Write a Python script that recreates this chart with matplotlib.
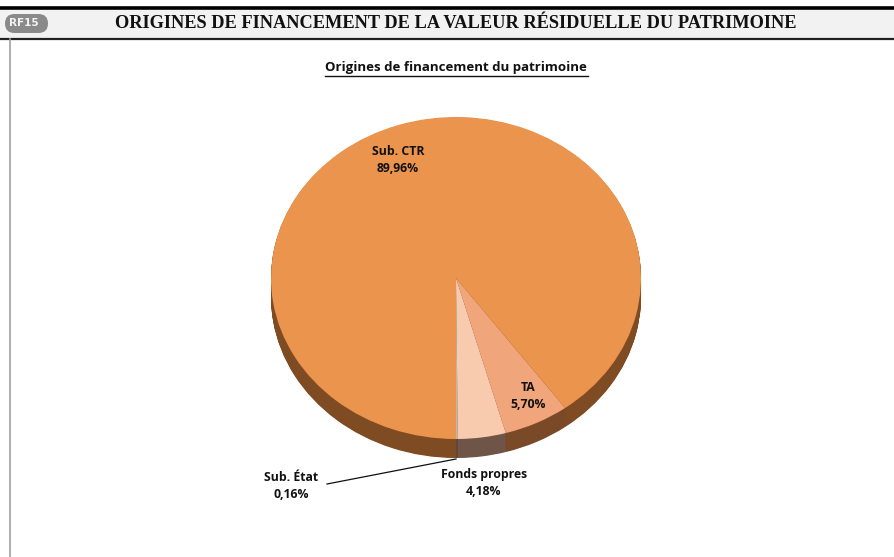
import matplotlib
matplotlib.use("Agg")
import matplotlib.pyplot as plt
from matplotlib.patches import FancyBboxPatch, Rectangle
from matplotlib.lines import Line2D

# ---- data ----
categories = ["Sub. État", "Fonds propres", "TA", "Sub. CTR"]
values = [0.16, 4.18, 5.70, 89.96]
value_labels = ["0,16%", "4,18%", "5,70%", "89,96%"]
header_title = "ORIGINES DE FINANCEMENT DE LA VALEUR RÉSIDUELLE DU PATRIMOINE"
chart_title = "Origines de financement du patrimoine"
badge = "RF15"

top_colors = ["#C9B3A6", "#F9CBAE", "#F1A57A", "#EA944E"]
side_colors = ["#5E4638", "#6E5548", "#7A4A28", "#7E4B22"]

W, H = 894, 557
fig = plt.figure(figsize=(W / 100, H / 100), dpi=100)
fig.patch.set_facecolor("white")

# background axes in pixel coordinates (y downward)
bg = fig.add_axes([0, 0, 1, 1])
bg.set_xlim(0, W)
bg.set_ylim(H, 0)
bg.axis("off")

# header band
bg.add_patch(Rectangle((0, 8), W, 30, facecolor="#F2F2F2", edgecolor="none", zorder=1))
bg.add_line(Line2D([0, W], [8, 8], color="black", lw=2.6, zorder=2))
bg.add_line(Line2D([0, W], [38.5, 38.5], color="#222222", lw=1.6, zorder=2))
bg.add_line(Line2D([9.5, 9.5], [39, H], color="#A0A0A0", lw=1.2, zorder=2))
bg.add_patch(FancyBboxPatch((5, 14), 43, 19, boxstyle="round,pad=0,rounding_size=9.5",
                            facecolor="#8A8A8A", edgecolor="none", zorder=3))
bg.text(24, 23.5, badge, color="#F4F4F4", fontsize=7.5, fontweight="bold",
        family="Liberation Sans Narrow", ha="center", va="center", zorder=4)
bg.text(456, 23, header_title, family="Liberation Serif", fontsize=13.2,
        fontweight="bold", ha="center", va="center", color="#111111", zorder=4)

# chart title with underline
bg.text(456, 68, chart_title, family="Open Sans", fontsize=9.5, fontweight="bold",
        ha="center", va="center", color="#111111")
bg.add_line(Line2D([325, 588], [75.5, 75.5], color="#111111", lw=1.0))

# ---- 3D-like pie ----
cx, cy = 456, 278      # pixel center
a, b = 185, 161        # semi-axes (px)
depth = 19             # px
d = depth / b

left = (cx - a) / W
bottom = (H - (cy + b + depth)) / H
ax = fig.add_axes([left, bottom, 2 * a / W, (2 * b + depth) / H])

nlayers = 30
for i in range(nlayers, 0, -1):
    off = d * i / nlayers
    ax.pie(values, colors=side_colors, startangle=270, counterclock=True,
           radius=1, center=(0, -off), frame=True,
           wedgeprops=dict(linewidth=0, antialiased=True))
ax.pie(values, colors=top_colors, startangle=270, counterclock=True,
       radius=1, center=(0, 0), frame=True,
       wedgeprops=dict(linewidth=0, antialiased=True))
ax.set_aspect("auto")
ax.set_xlim(-1, 1)
ax.set_ylim(-1 - d, 1)
ax.axis("off")

# overlay axes for labels (pixel coordinates)
ov = fig.add_axes([0, 0, 1, 1])
ov.set_xlim(0, W)
ov.set_ylim(H, 0)
ov.axis("off")
ov.patch.set_alpha(0)

lab_kw = dict(family="Open Sans", fontsize=8.8, fontweight="bold", ha="center",
              va="center", color="#111111", linespacing=1.35)
ov.text(398, 160, f"{categories[3]}\n{value_labels[3]}", **lab_kw)
ov.text(528, 396, f"{categories[2]}\n{value_labels[2]}", **lab_kw)
ov.text(484, 483, f"{categories[1]}\n{value_labels[1]}", **lab_kw)
ov.text(291, 486, f"{categories[0]}\n{value_labels[0]}", **lab_kw)
ov.add_line(Line2D([327, 456], [484, 459], color="#111111", lw=0.9))

fig.savefig("out.png", dpi=100, facecolor="white")
